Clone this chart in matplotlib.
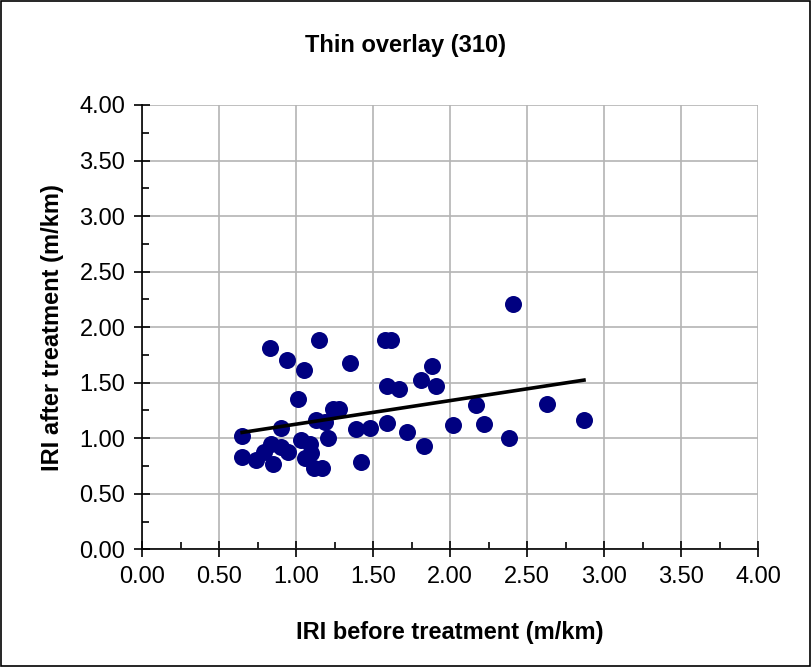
import numpy as np
import matplotlib.pyplot as plt
from matplotlib.patches import Rectangle
from matplotlib.ticker import MultipleLocator, FormatStrFormatter

plt.rcParams['font.family'] = ['Liberation Sans', 'DejaVu Sans']

iri_before = [0.65, 0.65, 0.74, 0.79, 0.84, 0.85, 0.83, 0.90, 0.90, 0.94,
              0.95, 1.01, 1.03, 1.05, 1.06, 1.09, 1.10, 1.12, 1.17, 1.15,
              1.13, 1.19, 1.21, 1.24, 1.28, 1.35, 1.39, 1.42, 1.48, 1.58,
              1.62, 1.59, 1.59, 1.67, 1.72, 1.81, 1.83, 1.88, 1.91, 2.02,
              2.17, 2.22, 2.38, 2.41, 2.63, 2.87]
iri_after = [1.02, 0.83, 0.80, 0.88, 0.95, 0.77, 1.81, 1.09, 0.92, 1.70,
             0.88, 1.35, 0.98, 1.61, 0.82, 0.95, 0.87, 0.73, 0.73, 1.88,
             1.16, 1.15, 1.00, 1.26, 1.26, 1.68, 1.08, 0.79, 1.09, 1.88,
             1.88, 1.47, 1.14, 1.44, 1.06, 1.52, 0.93, 1.65, 1.47, 1.12,
             1.30, 1.13, 1.00, 2.21, 1.31, 1.16]

x = np.array(iri_before)
y = np.array(iri_after)

fig = plt.figure(figsize=(8.12, 6.67), dpi=100)
ax = fig.add_axes([0.1749, 0.1765, 0.7586, 0.6661])

ax.scatter(x, y, s=150, color='#000080', zorder=3, linewidths=0)

# linear trend over the data range
k, b = np.polyfit(x, y, 1)
xl = np.array([x.min(), x.max()])
ax.plot(xl, k * xl + b, color='black', lw=2.6, zorder=4)

ax.set_xlim(0, 4)
ax.set_ylim(0, 4)
ax.xaxis.set_major_locator(MultipleLocator(0.5))
ax.yaxis.set_major_locator(MultipleLocator(0.5))
ax.xaxis.set_minor_locator(MultipleLocator(0.25))
ax.yaxis.set_minor_locator(MultipleLocator(0.25))
ax.xaxis.set_major_formatter(FormatStrFormatter('%.2f'))
ax.yaxis.set_major_formatter(FormatStrFormatter('%.2f'))
ax.grid(True, which='major', color='#b4b4b4', lw=1.2, zorder=0)
ax.set_axisbelow(True)

for s in ['top', 'right']:
    ax.spines[s].set_visible(False)
for s in ['left', 'bottom']:
    ax.spines[s].set_linewidth(1.2)

ax.tick_params(which='major', direction='inout', length=12, width=1.2,
               labelsize=17, pad=6)
ax.tick_params(which='minor', direction='in', length=5, width=1.2)

fig.text(0.5, 0.932, 'Thin overlay (310)', fontsize=17, fontweight='bold',
         ha='center', va='center')
ax.set_xlabel('IRI before treatment (m/km)', fontsize=17, fontweight='bold', labelpad=24)
ax.set_ylabel('IRI after treatment (m/km)', fontsize=17, fontweight='bold', labelpad=11)

fig.patches.append(Rectangle((0.001, 0.001), 0.997, 0.997, transform=fig.transFigure,
                             fill=False, edgecolor='black', lw=1.2))

fig.savefig('out.png', dpi=100)
